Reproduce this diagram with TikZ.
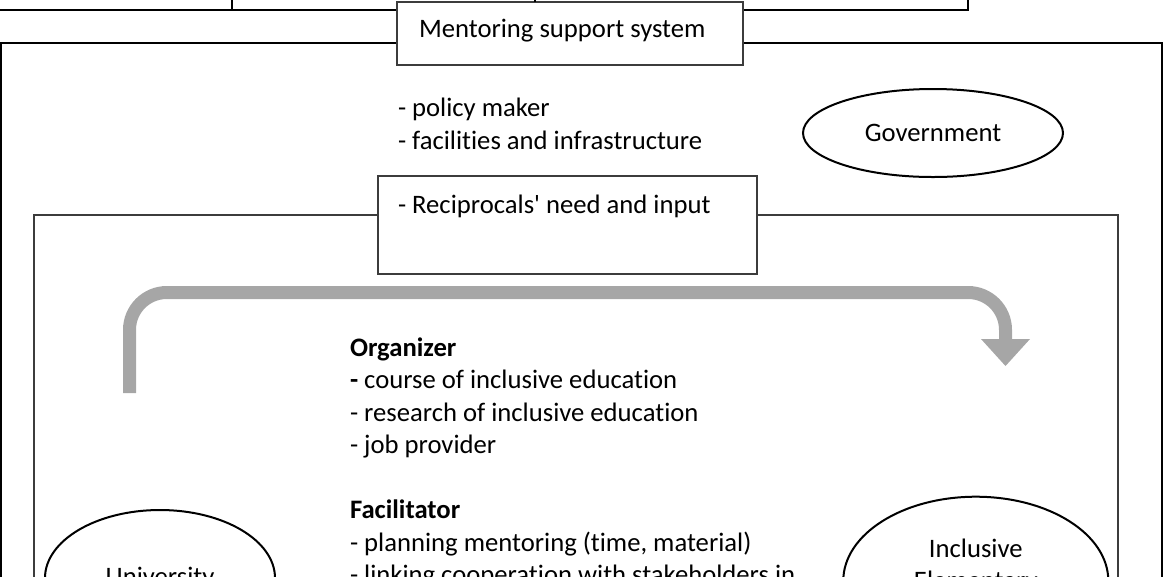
\documentclass[tikz,border=0pt]{standalone}
\usepackage{fontspec}
\setmainfont{Carlito}[Ligatures={NoCommon}]
\usetikzlibrary{shapes.geometric}
\definecolor{arrowgray}{RGB}{166,166,166}
\definecolor{linegray}{RGB}{60,60,60}
\begin{document}
\begin{tikzpicture}[x=0.75pt,y=-0.75pt,
  every node/.style={font=\fontsize{20}{24.375}\selectfont, inner sep=0pt, outer sep=0pt},
  heavybox/.style={draw=black, line width=1.5pt},
  thinbox/.style={draw=linegray, line width=1pt, fill=white},
  innerbox/.style={draw=linegray, line width=1.1pt},
  oval/.style={draw=black, line width=1.5pt, ellipse, fill=white, align=center},
  cyclearrow/.style={draw=arrowgray, line width=9.75pt},
  txt/.style={anchor=base west}]
\useasboundingbox (0,0) rectangle (1164,576);
\clip (0,0) rectangle (1164,576);
% boxes of the part above
\node[heavybox, minimum width=225pt, minimum height=45pt, anchor=south east] (upleft) at (232,10) {};
\node[heavybox, minimum width=552pt, minimum height=45pt, anchor=south west] (upright) at (232,10) {};
% outer and inner frames
\node[heavybox, minimum width=870.75pt, minimum height=525pt, anchor=north west] (outer) at (1,42.7) {};
\node[innerbox, minimum width=813pt, minimum height=375pt, anchor=north west] (inner) at (34,215) {};
% title
\node[thinbox, minimum width=259.5pt, minimum height=47.25pt, anchor=north west] (title) at (397,2) {};
\node[txt] (titletext) at (419,37.5) {Mentoring support system};
\coordinate (feed) at (535,-5);
\draw[line width=1.2pt] (feed) -- (feed |- title.north);
% government
\node[txt] (policy) at (398,116.5) {\begin{tabular}[t]{@{}l@{}}- policy maker\\- facilities and infrastructure\end{tabular}};
\node[oval, minimum width=195pt, minimum height=66pt] (gov) at (933,133) {Government};
% reciprocal box
\node[thinbox, minimum width=284.25pt, minimum height=73.5pt, anchor=north west] (recip) at (378,176) {};
\node[txt] (reciptext) at (398,213) {- Reciprocals\textquotesingle{} need and input};
% cycle arrow
\coordinate (cycstart) at (129.5,393);
\coordinate (cycend) at (1005.5,340);
\draw[cyclearrow, rounded corners=28pt] (cycstart) |- (1005.5,292.5) -- (cycend);
\fill[arrowgray] (981,339) -- (1030,339) -- (1005.5,366) -- cycle;
% roles
\node[txt] (roles) at (350,356) {\begin{tabular}[t]{@{}l@{}}\textbf{Organizer}\\\textbf{-} course of inclusive education\\- research of inclusive education\\- job provider\\ \\\textbf{Facilitator}\\- planning mentoring (time, material)\\- linking cooperation with stakeholders in\end{tabular}};
% partners
\node[oval, minimum width=172.5pt, minimum height=102pt] (univ) at (160,578) {University};
\node[oval, minimum width=198.75pt, minimum height=126pt] (ies) at (975.8,580.7) {Inclusive\\Elementary\\School};
\end{tikzpicture}
\end{document}
